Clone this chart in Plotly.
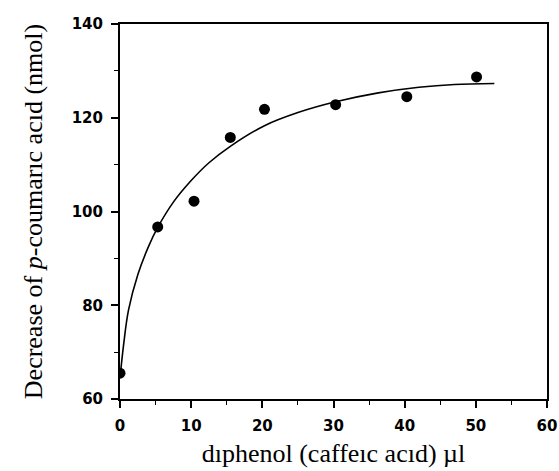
import plotly.graph_objects as go

# measured points
x_pts = [0, 5.3, 10.4, 15.5, 20.3, 30.3, 40.3, 50.1]
y_pts = [65.5, 96.7, 102.2, 115.8, 121.8, 122.8, 124.5, 128.7]

# fitted curve
x_fit = [0, 0.5, 1.2, 2.5, 4.0, 5.3, 7.5, 10, 12.5, 15.5, 20.3, 25, 30.3, 36.3, 42, 47, 52.6]
y_fit = [64.5, 71.5, 79.0, 86.5, 92.5, 96.6, 102.0, 106.6, 110.4, 113.9, 118.3, 121.1, 123.4, 125.3, 126.5, 127.1, 127.3]

x_ticks = [0, 10, 20, 30, 40, 50, 60]
y_ticks = [60, 80, 100, 120, 140]

fig = go.Figure()
fig.add_trace(go.Scatter(x=x_fit, y=y_fit, mode="lines",
                         line=dict(color="black", width=1.6, shape="spline", smoothing=1.0),
                         hoverinfo="skip", showlegend=False))
fig.add_trace(go.Scatter(x=x_pts, y=y_pts, mode="markers", marker=dict(color="black", size=11),
                         showlegend=False))

tickfont = dict(family="DejaVu Sans, Arial, sans-serif", size=15, color="black", weight="bold")
titlefont = dict(family="Liberation Serif, Times New Roman, serif", size=26, color="black")

common = dict(ticks="outside", ticklen=7, tickwidth=1.5, tickcolor="black",
              showline=True, linecolor="black", linewidth=2, mirror=True,
              showgrid=False, zeroline=False, tickfont=tickfont, ticklabelstandoff=5,
              ticklabeloverflow="allow")

fig.update_layout(
    width=559, height=471,
    margin=dict(l=120, r=12, t=24, b=72, autoexpand=False),
    paper_bgcolor="white", plot_bgcolor="white",
    font=dict(color="black"),
    xaxis=dict(range=[0, 60], tickvals=x_ticks, **common,
               minor=dict(dtick=5, ticks="outside", ticklen=4, tickcolor="black", tickwidth=1.2),
               title=dict(text="dıphenol (caffeıc acıd) µl", font=titlefont, standoff=10)),
    yaxis=dict(range=[60, 140], tickvals=y_ticks, **common,
               minor=dict(dtick=10, ticks="outside", ticklen=4, tickcolor="black", tickwidth=1.2),
               title=dict(text="Decrease of <i>p</i>-coumarıc acıd (nmol)", font=titlefont, standoff=22)),
)

fig.write_html("out.html")
